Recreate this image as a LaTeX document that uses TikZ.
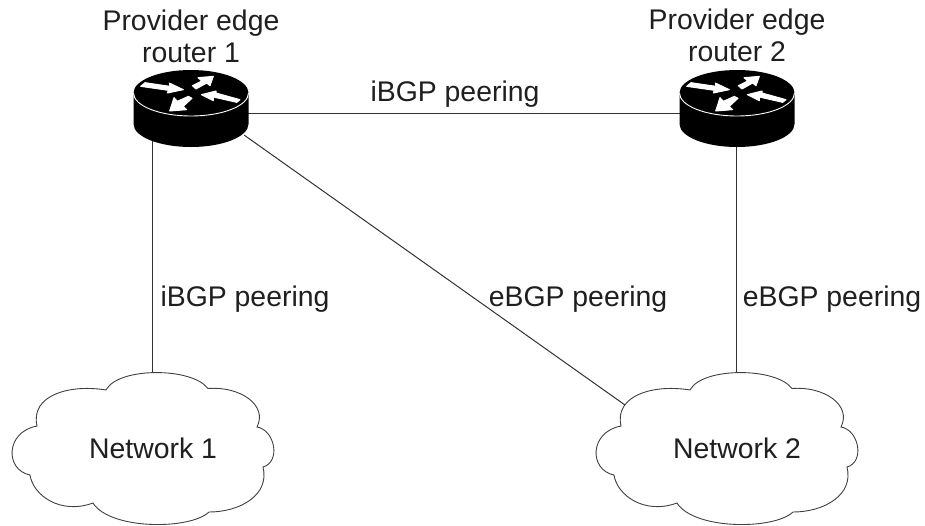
\documentclass[tikz,border=0pt]{standalone}
\usepackage{fontspec}
\setmainfont{Liberation Sans}
\tikzset{
  lbl/.style={anchor=base,inner sep=0pt,text=black!88,font=\fontsize{28.4}{30}\selectfont},
  conn/.style={draw=black!80,line width=1pt},
  hook/.style={inner sep=0pt,minimum size=0pt},
  rt/.style={inner sep=0pt,minimum width=115pt,minimum height=77pt},
  rarrow/.style={fill=white,draw=white,line width=1pt,line join=round},
  pics/router/.style={code={
    \fill[black] (-57.5,0) -- (-57.5,31) arc[start angle=180,end angle=0,x radius=57.5,y radius=23]
       -- (57.5,0) arc[start angle=0,end angle=-180,x radius=57.5,y radius=23] -- cycle;
    \draw[white,line width=0.9pt] (-57.5,0) arc[start angle=180,end angle=0,x radius=57.5,y radius=23];
    \begin{scope}[x=0.3333pt,y=-0.3333pt,shift={(-243,-130)}]
      \path[rarrow] (92,110)--(105,99)--(180,110)--(178,100)--(220,120)--(172,130)--(175,122)--cycle;
      \path[rarrow] (247,108)--(275,94)--(264,84)--(310,80)--(300,108)--(290,100)--(258,118)--cycle;
      \path[rarrow] (390,150)--(380,158)--(310,142)--(310,153)--(274,135)--(318,124)--(318,130)--cycle;
      \path[rarrow] (235,140)--(246,146)--(220,170)--(230,180)--(179,184)--(192,144)--(202,155)--cycle;
    \end{scope}
  }},
  pics/cloud/.style={code={
    \draw[draw=black!75,fill=white,line width=0.9pt,shift={(-153,-448)}]
      (106,390) .. controls (118,367) and (192,367) .. (208,388.5)
      .. controls (240,386) and (268,405) .. (257,427)
      .. controls (275,430) and (281,462) .. (263,467)
      .. controls (270,495) and (240,512) .. (209,512)
      .. controls (190,530) and (110,530) .. (93,503)
      .. controls (60,515) and (33,495) .. (30,475)
      .. controls (5,470) and (5,432) .. (37,426)
      .. controls (30,395) and (70,384) .. (106,390) -- cycle;
  }}
}
\begin{document}
\begin{tikzpicture}[x=1pt,y=-1pt]
\useasboundingbox (0,0) rectangle (925,525);
\fill[white] (0,0) rectangle (925,525);
\node[rt] (r1) at (191,109) {};
\node[rt] (r2) at (737,109) {};
\node[hook] (n1t) at (152.7,373) {};
\node[hook] (n2t) at (736.7,373) {};
\node[hook] (n2l) at (625,405) {};
\node[hook] (r1e) at (248,113) {};
\node[hook] (r2w) at (680,113) {};
\node[hook] (r1s) at (152.7,140) {};
\node[hook] (r2s) at (736.7,140) {};
\node[hook] (r1d) at (244,135) {};
\draw[conn] (r1e) -- (r2w);
\draw[conn] (r1s) -- (n1t);
\draw[conn] (r2s) -- (n2t);
\draw[conn] (r1d) -- (n2l);
\pic at (191,93) {router};
\pic at (737,93) {router};
\pic at (153,448) {cloud};
\pic at (737,448) {cloud};
\node[lbl] (t1) at (191,30) {Provider edge};
\node[lbl] (t2) at (191,62) {router 1};
\node[lbl] (t3) at (737,29) {Provider edge};
\node[lbl] (t4) at (737,61) {router 2};
\node[lbl] (t5) at (455,101) {iBGP peering};
\node[lbl] (t6) at (245,306) {iBGP peering};
\node[lbl] (t7) at (578,306) {eBGP peering};
\node[lbl] (t8) at (832,306) {eBGP peering};
\node[lbl] (t9) at (153,458) {Network 1};
\node[lbl] (t10) at (737,458) {Network 2};
\end{tikzpicture}
\end{document}
